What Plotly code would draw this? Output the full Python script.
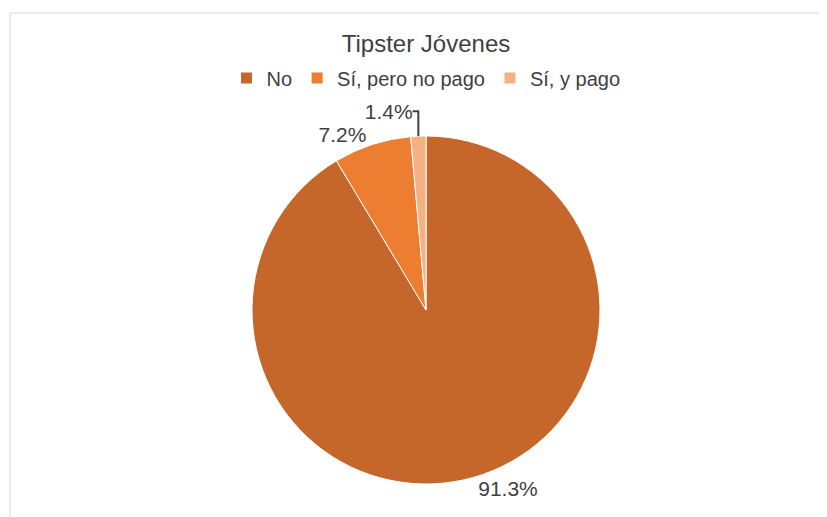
import plotly.graph_objects as go

categories = ["No", "Sí, pero no pago", "Sí, y pago"]
shares = [91.3, 7.2, 1.4]
colors = ["#C5672A", "#ED7D31", "#F4B183"]

# page body adds an 8px margin, so work in page pixels minus that offset
OFF = 8
W, H = 827 - OFF, 517 - OFF
cx, cy, r = 426 - OFF, 310 - OFF, 174

fig = go.Figure(go.Pie(
    labels=categories, values=shares,
    sort=False, direction="clockwise", rotation=0,
    marker=dict(colors=colors, line=dict(color="white", width=1)),
    texttemplate="%{value:.1f}%", textposition="outside",
    textfont=dict(size=21, color="#404040"),
    hoverinfo="label+percent",
    domain=dict(x=[(cx - r) / W, (cx + r) / W], y=[(H - cy - r) / H, (H - cy + r) / H]),
))

fig.update_layout(
    width=W, height=H,
    margin=dict(l=0, r=0, t=0, b=0),
    paper_bgcolor="white",
    font=dict(family="Liberation Sans, Arial, sans-serif", color="#404040"),
    title=dict(text="Tipster Jóvenes", x=cx / W, xanchor="center", y=1 - (44 - OFF) / H, yanchor="middle",
               font=dict(size=24, color="#404040")),
    legend=dict(orientation="h", x=cx / W, xanchor="center", y=1 - (78 - OFF) / H, yanchor="middle",
                font=dict(size=20, color="#404040")),
    shapes=[dict(type="rect", xref="paper", yref="paper", x0=(10 - OFF) / W, y0=-0.1, x1=1.1,
                 y1=1 - (13 - OFF) / H, line=dict(color="#D9D9D9", width=1))],
)

fig.write_html("out.html")
